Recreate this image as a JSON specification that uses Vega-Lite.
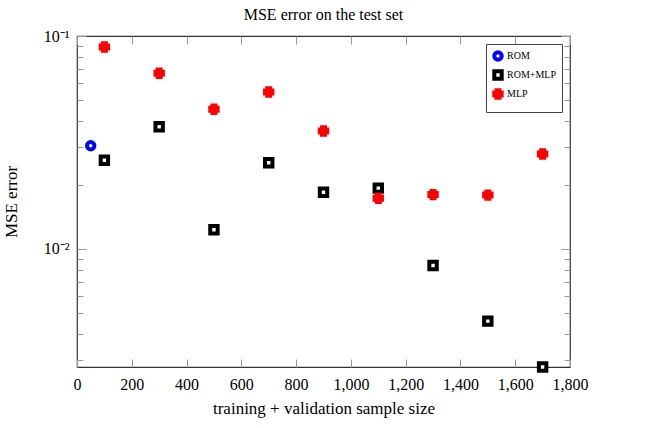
{
  "$schema": "https://vega.github.io/schema/vega-lite/v6.json",
  "width": 493,
  "height": 331,
  "autosize": "none",
  "padding": {"left": 77, "top": 36, "right": 85, "bottom": 61},
  "background": "white",
  "config": {
    "font": "Liberation Serif",
    "view": {"stroke": "#333333", "strokeWidth": 1.2},
    "axis": {"grid": false, "labelFont": "Liberation Serif", "titleFont": "Liberation Serif", "labelColor": "black", "titleColor": "black", "titleFontWeight": "normal", "domainColor": "#333333", "tickColor": "#999999"}
  },
  "title": {"text": "MSE error on the test set", "fontSize": 16, "font": "Liberation Serif", "fontWeight": "normal", "anchor": "middle", "offset": 5},
  "data": {"values": [
    {"n": 50, "mse": 0.0305, "series": "ROM"},
    {"n": 100, "mse": 0.0261, "series": "ROM+MLP"},
    {"n": 300, "mse": 0.0375, "series": "ROM+MLP"},
    {"n": 500, "mse": 0.0123, "series": "ROM+MLP"},
    {"n": 700, "mse": 0.0254, "series": "ROM+MLP"},
    {"n": 900, "mse": 0.01845, "series": "ROM+MLP"},
    {"n": 1100, "mse": 0.0193, "series": "ROM+MLP"},
    {"n": 1300, "mse": 0.00836, "series": "ROM+MLP"},
    {"n": 1500, "mse": 0.00458, "series": "ROM+MLP"},
    {"n": 1700, "mse": 0.00279, "series": "ROM+MLP"},
    {"n": 100, "mse": 0.0888, "series": "MLP"},
    {"n": 300, "mse": 0.0668, "series": "MLP"},
    {"n": 500, "mse": 0.0453, "series": "MLP"},
    {"n": 700, "mse": 0.0546, "series": "MLP"},
    {"n": 900, "mse": 0.0358, "series": "MLP"},
    {"n": 1100, "mse": 0.0173, "series": "MLP"},
    {"n": 1300, "mse": 0.0180, "series": "MLP"},
    {"n": 1500, "mse": 0.0179, "series": "MLP"},
    {"n": 1700, "mse": 0.0279, "series": "MLP"}
  ]},
  "resolve": {"axis": {"x": "independent", "y": "independent"}},
  "layer": [
    {
      "mark": {"type": "point", "opacity": 0},
      "encoding": {
        "x": {"field": "n", "type": "quantitative", "scale": {"domain": [0, 1800], "nice": false},
          "axis": {"orient": "top", "labels": false, "title": null, "domain": false, "values": [0,200,400,600,800,1000,1200,1400,1600,1800], "tickSize": -8}},
        "y": {"field": "mse", "type": "quantitative", "scale": {"type": "log", "domain": [0.00279, 0.1], "nice": false},
          "axis": {"orient": "right", "labels": false, "title": null, "domain": false,
            "values": [0.003,0.004,0.005,0.006,0.007,0.008,0.009,0.01,0.02,0.03,0.04,0.05,0.06,0.07,0.08,0.09,0.1],
            "tickSize": {"condition": {"test": "datum.value == 0.01 || datum.value == 0.1", "value": -9}, "value": -6}}}
      }
    },
    {
      "mark": {"type": "point", "filled": false, "opacity": 1, "size": 55},
      "encoding": {
        "x": {"field": "n", "type": "quantitative", "scale": {"domain": [0, 1800], "nice": false},
          "axis": {"orient": "bottom", "title": "training + validation sample size", "labelExpr": "format(datum.value, ',')", "labelOverlap": false, "labelFlush": false, "labelFontSize": 16, "titleFontSize": 17, "values": [0,200,400,600,800,1000,1200,1400,1600,1800], "tickSize": -8, "labelPadding": 17, "titlePadding": 8, "domain": false}},
        "y": {"field": "mse", "type": "quantitative", "scale": {"type": "log", "domain": [0.00279, 0.1], "nice": false},
          "axis": {"orient": "left", "title": "MSE error", "labelFontSize": 16, "titleFontSize": 17, "labelOverlap": false,
            "values": [0.003,0.004,0.005,0.006,0.007,0.008,0.009,0.01,0.02,0.03,0.04,0.05,0.06,0.07,0.08,0.09,0.1],
            "labelExpr": "datum.value == 0.1 ? '10⁻¹' : (datum.value == 0.01 ? '10⁻²' : '')",
            "tickSize": {"condition": {"test": "datum.value == 0.01 || datum.value == 0.1", "value": -9}, "value": -6},
            "labelPadding": 17, "titlePadding": 23, "domain": false}},
        "shape": {"field": "series", "type": "nominal", "scale": {"domain": ["ROM", "ROM+MLP", "MLP"], "range": ["circle", "square", "cross"]}, "legend": {"title": null, "orient": "top-right", "offset": 8, "labelFontSize": 10, "labelFont": "Liberation Serif", "strokeColor": "#444444", "padding": 6, "rowPadding": -5, "fillColor": "white", "symbolSize": 55, "labelOffset": 3}},
        "stroke": {"field": "series", "type": "nominal", "scale": {"domain": ["ROM", "ROM+MLP", "MLP"], "range": ["#0000ff", "#000000", "#ff0000"]}, "legend": {"title": null}},
        "fill": {"field": "series", "type": "nominal", "scale": {"domain": ["ROM", "ROM+MLP", "MLP"], "range": ["#ffffff", "#ffffff", "#ff0000"]}, "legend": {"title": null}},
        "strokeWidth": {"field": "series", "type": "nominal", "scale": {"domain": ["ROM", "ROM+MLP", "MLP"], "range": [4, 4, 1]}, "legend": {"title": null}}
      }
    }
  ]
}
